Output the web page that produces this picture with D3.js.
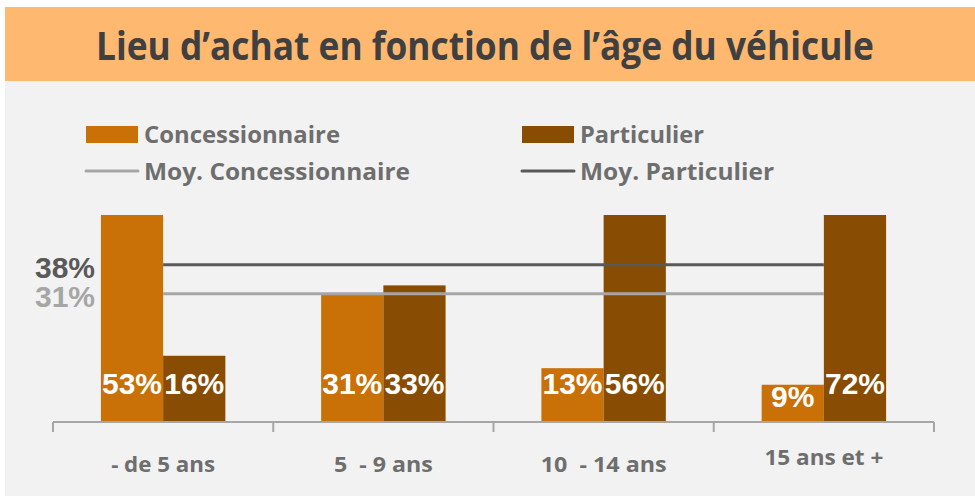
<!DOCTYPE html>
<html lang="fr">
<head>
<meta charset="utf-8">
<title>Lieu d'achat en fonction de l'âge du véhicule</title>
<script src="https://d3js.org/d3.v7.min.js"></script>
<style>
  body { margin: 0; background: #fff; }
  svg { display: block; }
</style>
</head>
<body>
<svg width="975" height="496"></svg>
<script>
// data
var categories = ["- de 5 ans", "5  - 9 ans", "10  - 14 ans", "15 ans et +"];
var series = ["Concessionnaire", "Particulier"];
var concessionnaire = [53, 31, 13, 9];
var particulier = [16, 33, 56, 72];
var moyConcessionnaire = 31;
var moyParticulier = 38;

var colors = {"Concessionnaire": "#C97007", "Particulier": "#884C03"};
var lineColors = {"Concessionnaire": "#A6A6A6", "Particulier": "#595959"};

var svg = d3.select("svg");

// background panels
svg.append("rect").attr("x", 5).attr("y", 7).attr("width", 970).attr("height", 489).attr("fill", "#F2F2F2");
svg.append("rect").attr("x", 5).attr("y", 7).attr("width", 970).attr("height", 74).attr("fill", "#FFB870");

svg.append("text")
    .attr("x", 96).attr("y", 60)
    .attr("textLength", 778).attr("lengthAdjust", "spacingAndGlyphs")
    .style("font", "bold 40px 'Open Sans', sans-serif")
    .attr("fill", "#404040")
    .text("Lieu d’achat en fonction de l’âge du véhicule");

// scales
var x = d3.scaleBand().domain(categories).range([53, 934]).padding(0);
var x1 = d3.scaleBand().domain(series).range([0, x.bandwidth()]).paddingInner(0).paddingOuter(0.77);
var y = d3.scaleLinear().domain([0, 50]).range([422, 215]).clamp(true);

var rows = categories.map(function(c, i) {
    return {cat: c, values: [
        {key: "Concessionnaire", v: concessionnaire[i]},
        {key: "Particulier", v: particulier[i]}
    ]};
});

// bars
var groups = svg.selectAll(".cat").data(rows).enter().append("g")
    .attr("class", "cat")
    .attr("transform", function(d) { return "translate(" + x(d.cat) + ",0)"; });

groups.selectAll("rect").data(function(d) { return d.values; }).enter().append("rect")
    .attr("x", function(d) { return x1(d.key); })
    .attr("y", function(d) { return y(d.v); })
    .attr("width", x1.bandwidth())
    .attr("height", function(d) { return y(0) - y(d.v); })
    .attr("fill", function(d) { return colors[d.key]; });

// average lines
var xStart = x(categories[0]) + x.bandwidth() / 2;
var xEnd = x(categories[categories.length - 1]) + x.bandwidth() / 2;
[["Particulier", moyParticulier], ["Concessionnaire", moyConcessionnaire]].forEach(function(m) {
    svg.append("line")
        .attr("x1", xStart).attr("x2", xEnd)
        .attr("y1", y(m[1])).attr("y2", y(m[1]))
        .attr("stroke", lineColors[m[0]]).attr("stroke-width", 3);
    svg.append("text")
        .attr("x", 95).attr("y", y(m[1]) + 13)
        .attr("text-anchor", "end")
        .style("font", "bold 30px 'Liberation Sans', Arial, sans-serif")
        .attr("fill", lineColors[m[0]])
        .text(m[1] + "%");
});

// value labels
groups.selectAll(".val").data(function(d) { return d.values; }).enter().append("text")
    .attr("class", "val")
    .attr("x", function(d) { return x1(d.key) + x1.bandwidth() / 2; })
    .attr("y", function(d) { return Math.max(y(0) - 28, y(d.v) + 22); })
    .attr("text-anchor", "middle")
    .style("font", "bold 30px 'Liberation Sans', Arial, sans-serif")
    .attr("fill", "#fff")
    .text(function(d) { return d.v + "%"; });

// axis
var axis = svg.append("g").attr("transform", "translate(0," + y(0) + ")");
axis.append("line").attr("x1", 53).attr("x2", 934).attr("stroke", "#A6A6A6").attr("stroke-width", 2);
var ticks = categories.map(function(c) { return x(c); }).concat([934]);
axis.selectAll(".tk").data(ticks).enter().append("line")
    .attr("x1", function(d) { return d; }).attr("x2", function(d) { return d; })
    .attr("y1", 0).attr("y2", 10)
    .attr("stroke", "#A6A6A6").attr("stroke-width", 2);

var catWidths = [104, 99, 126, 119];
var catY = [472, 472, 472, 465];
svg.selectAll(".catlab").data(categories).enter().append("text")
    .attr("class", "catlab")
    .attr("x", function(d) { return x(d) + x.bandwidth() / 2; })
    .attr("y", function(d, i) { return catY[i]; })
    .attr("text-anchor", "middle")
    .attr("textLength", function(d, i) { return catWidths[i]; })
    .attr("lengthAdjust", "spacingAndGlyphs")
    .style("white-space", "pre")
    .style("font", "bold 21px 'Open Sans', sans-serif")
    .attr("fill", "#6E6E6E")
    .text(function(d) { return d; });

// legend
var legendItems = [
    {label: "Concessionnaire", type: "rect", key: "Concessionnaire", x: 86, y: 134, w: 196},
    {label: "Particulier", type: "rect", key: "Particulier", x: 522, y: 134, w: 124},
    {label: "Moy. Concessionnaire", type: "line", key: "Concessionnaire", x: 86, y: 171, w: 266},
    {label: "Moy. Particulier", type: "line", key: "Particulier", x: 522, y: 171, w: 194}
];
var leg = svg.selectAll(".leg").data(legendItems).enter().append("g").attr("class", "leg");
leg.filter(function(d) { return d.type === "rect"; }).append("rect")
    .attr("x", function(d) { return d.x; }).attr("y", function(d) { return d.y - 8; })
    .attr("width", 52).attr("height", 17)
    .attr("fill", function(d) { return colors[d.key]; });
leg.filter(function(d) { return d.type === "line"; }).append("line")
    .attr("x1", function(d) { return d.x; }).attr("x2", function(d) { return d.x + 52; })
    .attr("y1", function(d) { return d.y; }).attr("y2", function(d) { return d.y; })
    .attr("stroke", function(d) { return lineColors[d.key]; })
    .attr("stroke-width", 3).attr("stroke-linecap", "round");
leg.append("text")
    .attr("x", function(d) { return d.x + 58; })
    .attr("y", function(d) { return d.y + 9; })
    .attr("textLength", function(d) { return d.w; })
    .attr("lengthAdjust", "spacingAndGlyphs")
    .style("font", "bold 24px 'Open Sans', sans-serif")
    .attr("fill", "#6E6E6E")
    .text(function(d) { return d.label; });
</script>
</body>
</html>
